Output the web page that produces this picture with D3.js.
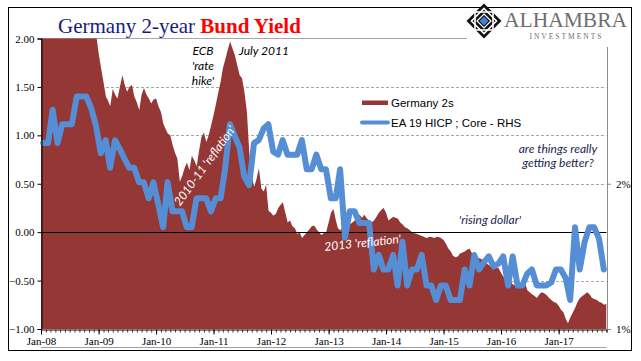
<!DOCTYPE html>
<html><head><meta charset="utf-8">
<script src="https://cdn.jsdelivr.net/npm/d3@7/dist/d3.min.js"></script>
<style>
html,body{margin:0;padding:0;background:#fff;}
svg{display:block;}
</style></head>
<body>
<svg id="chart" width="641" height="361"></svg>
<script>
// ---------- DATA ----------
// Germany 2-year Bund yield, semi-monthly (1st & 16th), from Jan 2008 to Nov 2017
const yieldStartYear = 2008;
const yieldValues = [
  3.9,3.6,3.4,3.2,3.3,3.4,3.6,3.9,4.1,4.4,4.6,4.7,4.6,4.4,4.3,4.1,4.0,3.7,3.5,3.0,2.9,2.6,2.3,2.05,
  1.85,1.70,1.55,1.40,1.36,1.30,1.48,1.42,1.38,1.50,1.62,1.52,1.45,1.50,1.52,1.40,1.34,1.26,1.42,1.49,1.42,1.38,1.33,1.37,
  1.38,1.30,1.24,1.12,1.07,1.02,1.00,0.90,0.82,0.76,0.52,0.58,0.66,0.72,0.64,0.79,0.74,0.68,0.84,0.98,1.03,0.93,1.00,1.10,
  1.21,1.32,1.45,1.56,1.69,1.78,1.88,1.97,1.90,1.83,1.72,1.62,1.59,1.45,1.24,0.82,0.58,0.47,0.55,0.66,0.45,0.42,0.49,0.22,
  0.20,0.17,0.19,0.25,0.28,0.31,0.20,0.10,0.12,0.06,0.04,-0.02,0.00,-0.06,-0.03,0.00,0.03,0.06,0.07,0.03,0.00,-0.03,-0.01,0.00,
  0.10,0.20,0.24,0.12,0.04,0.02,0.05,0.07,0.05,0.08,0.10,0.12,0.14,0.18,0.15,0.18,0.14,0.12,0.10,0.12,0.16,0.20,0.23,0.25,
  0.20,0.12,0.14,0.16,0.15,0.14,0.10,0.08,0.05,0.04,0.02,0.00,-0.01,-0.02,-0.03,-0.04,-0.05,-0.06,-0.05,-0.05,-0.06,-0.05,-0.05,-0.06,
  -0.08,-0.12,-0.17,-0.20,-0.24,-0.26,-0.25,-0.22,-0.21,-0.20,-0.18,-0.17,-0.22,-0.24,-0.26,-0.27,-0.28,-0.30,-0.32,-0.34,-0.36,-0.38,-0.37,-0.37,
  -0.42,-0.46,-0.49,-0.52,-0.50,-0.54,-0.55,-0.58,-0.56,-0.54,-0.52,-0.60,-0.62,-0.64,-0.66,-0.68,-0.64,-0.62,-0.63,-0.65,-0.68,-0.70,-0.72,-0.73,
  -0.76,-0.80,-0.83,-0.90,-0.94,-0.88,-0.83,-0.78,-0.72,-0.68,-0.66,-0.64,-0.62,-0.64,-0.68,-0.69,-0.70,-0.72,-0.73,-0.75,-0.74
];
// EA 19 HICP Core (RHS, %), monthly from Jan 2008
const hicpValues = [
  2.28,2.28,2.51,2.28,2.41,2.41,2.41,2.60,2.60,2.60,2.52,2.40,
  2.21,2.30,2.11,2.30,2.24,2.17,2.11,2.11,2.01,2.01,1.90,2.01,
  1.86,1.70,2.01,1.81,1.81,1.81,1.70,1.70,1.90,1.90,1.90,1.81,
  1.90,1.90,2.10,2.41,2.33,2.25,2.05,1.99,2.28,2.30,2.38,2.41,
  2.22,2.20,2.30,2.20,2.20,2.20,2.30,2.10,2.10,2.20,2.10,2.10,
  1.90,1.90,2.10,1.63,1.81,1.81,1.73,1.73,1.73,1.41,1.51,1.41,
  1.41,1.51,1.30,1.60,1.30,1.41,1.41,1.51,1.30,1.30,1.20,1.30,
  1.30,1.20,1.20,1.20,1.41,1.30,1.51,1.41,1.46,1.50,1.43,1.45,
  1.50,1.30,1.50,1.30,1.30,1.38,1.41,1.30,1.30,1.30,1.32,1.41,
  1.41,1.35,1.20,1.70,1.41,1.60,1.70,1.70,1.62,1.41
];
const leftTicks = [-1.00, -0.50, 0.00, 0.50, 1.00, 1.50, 2.00];
const rightTicks = [1, 2];
const xTickYears = [2008,2009,2010,2011,2012,2013,2014,2015,2016,2017];
const seriesNames = ["Germany 2s", "EA 19 HICP ; Core - RHS"];

// ---------- BUILD ----------
const yieldData = yieldValues.map((v,i)=>({date:new Date(yieldStartYear, Math.floor(i/2), i%2 ? 16 : 1), v}));
const hicpData = hicpValues.map((v,i)=>({date:new Date(yieldStartYear, i, 15), v}));

const svg = d3.select("#chart");
const L = 41, R = 606.5, T = 38.5, B = 329;

const x = d3.scaleTime().domain([new Date(2008,0,1), new Date(2017,10,1)]).range([L, R]);
const y = d3.scaleLinear().domain([-1, 2]).range([B, T]);
const yR = d3.scaleLinear().domain([1, 3]).range([B, T]);

const serif = "'Liberation Serif','Times New Roman',serif";
const sans = "'Liberation Sans',Arial,sans-serif";
const ital = "Lato,'Open Sans',sans-serif";

// outer border
svg.append("rect").attr("x",8.5).attr("y",7.5).attr("width",623).attr("height",343)
  .attr("fill","#fff").attr("stroke","#000").attr("stroke-width",1);

// gridlines
svg.append("g").selectAll("line").data(leftTicks.filter(t=>t!==0 && t!==-1 && t!==2)).join("line")
  .attr("x1",L).attr("x2",R).attr("y1",d=>Math.round(y(d))+0.5).attr("y2",d=>Math.round(y(d))+0.5)
  .attr("stroke","#a6a6a6").attr("stroke-dasharray","3,2").attr("stroke-width",1);
svg.append("line").attr("x1",L).attr("x2",R).attr("y1",T).attr("y2",T).attr("stroke","#a6a6a6");

// clip
svg.append("clipPath").attr("id","plotclip").append("rect")
  .attr("x",L).attr("y",T).attr("width",R-L).attr("height",B-T);

// area
const area = d3.area().x(d=>x(d.date)).y0(y(-1)).y1(d=>y(d.v));
svg.append("path").datum(yieldData).attr("clip-path","url(#plotclip)")
  .attr("d",area).attr("fill","#953735");

// zero line
svg.append("line").attr("x1",L).attr("x2",R).attr("y1",Math.round(y(0))+0.5).attr("y2",Math.round(y(0))+0.5)
  .attr("stroke","#000").attr("stroke-width",1.2);

// HICP line
const line = d3.line().x(d=>x(d.date)).y(d=>yR(d.v));
svg.append("path").datum(hicpData).attr("d",line).attr("fill","none")
  .attr("stroke","#558ED5").attr("stroke-width",6).attr("stroke-linejoin","round").attr("stroke-linecap","round");

// left axis
const yAxis = d3.axisLeft(y).tickValues(leftTicks).tickFormat(d3.format(".2f")).tickSize(4).tickPadding(3);
const gy = svg.append("g").attr("transform",`translate(${L+0.5},0)`).call(yAxis);
gy.select(".domain").attr("stroke","#000");
gy.selectAll(".tick line").attr("stroke","#000");
gy.selectAll("text").attr("font-family",serif).attr("font-size","11px").attr("fill","#000");

// right axis
const yAxisR = d3.axisRight(yR).tickValues(rightTicks).tickFormat(d=>d+"%").tickSize(4).tickPadding(5);
const gr = svg.append("g").attr("transform",`translate(${R+0.5},0)`).call(yAxisR);
gr.select(".domain").attr("stroke","#8c8c8c");
gr.selectAll(".tick line").attr("stroke","#8c8c8c");
gr.selectAll("text").attr("font-family",serif).attr("font-size","11px").attr("fill","#000");

// x axis
const xMinor = d3.axisBottom(x).ticks(d3.timeMonth.every(1)).tickSize(3).tickFormat("");
const gxm = svg.append("g").attr("transform",`translate(0,${B+0.5})`).call(xMinor);
gxm.select(".domain").attr("stroke","#000");
gxm.selectAll(".tick line").attr("stroke","#333");
const xMajor = d3.axisBottom(x).tickValues(xTickYears.map(yy=>new Date(yy,0,1)))
  .tickFormat(d3.timeFormat("%b-%y")).tickSize(5).tickPadding(3);
const gx = svg.append("g").attr("transform",`translate(0,${B+0.5})`).call(xMajor);
gx.select(".domain").remove();
gx.selectAll(".tick line").attr("stroke","#000");
gx.selectAll("text").attr("font-family",serif).attr("font-size","11px").attr("fill","#000");

// bottom gray line
svg.append("line").attr("x1",L).attr("x2",R).attr("y1",347.5).attr("y2",347.5).attr("stroke","#a0a0a0");

// legend
svg.append("rect").attr("x",362).attr("y",100.5).attr("width",26).attr("height",4.5).attr("fill","#953735");
svg.append("text").attr("x",391).attr("y",106.5).text(seriesNames[0])
  .attr("font-family",sans).attr("font-size","11.5px").attr("fill","#000");
svg.append("line").attr("x1",362).attr("x2",388).attr("y1",122.5).attr("y2",122.5)
  .attr("stroke","#558ED5").attr("stroke-width",4).attr("stroke-linecap","round");
svg.append("text").attr("x",391).attr("y",126.5).text(seriesNames[1])
  .attr("font-family",sans).attr("font-size","11.5px").attr("fill","#000");

// annotations
function note(txt, xx, yy, opts={}){
  const t = svg.append("text").attr("x",xx).attr("y",yy).text(txt)
    .attr("font-family",ital).attr("font-style","italic").attr("font-size",(opts.size||12)+"px")
    .attr("fill",opts.fill||"#000").attr("text-anchor",opts.anchor||"middle");
  if(opts.rot!==undefined) t.attr("transform",`rotate(${opts.rot},${xx},${yy})`);
  return t;
}
note("ECB", 203, 55);
note("'rate", 203, 70);
note("hike'", 203, 85);
note("July 2011", 264, 55);
note("are things really", 558, 153, {fill:"#1a2550"});
note("getting better?", 558, 167, {fill:"#1a2550"});
note("'rising dollar'", 490, 224, {fill:"#1a2550"});
note("2010-11 'reflation'", 208, 168, {fill:"#fff", rot:-54, size:12});
note("2013 'reflation'", 363, 247, {fill:"#fff", rot:-6, size:12});

// title
const title = svg.append("text").attr("x",58).attr("y",33).attr("font-family",serif).attr("font-size","21px");
title.append("tspan").text("Germany 2-year ").attr("fill","#1a1a80");
title.append("tspan").text("Bund Yield").attr("fill","#ff0000").attr("font-weight","bold");

// logo
const logo = svg.append("g");
logo.append("rect").attr("x",467).attr("y",8).attr("width",164).attr("height",39).attr("fill","#fff");
const cx = 484, cy = 21, h = 17.5;
const dia = (r)=>`M${cx},${cy-r}L${cx+r},${cy}L${cx},${cy+r}L${cx-r},${cy}Z`;
logo.append("path").attr("d",dia(h)).attr("fill","#111");
logo.append("path").attr("d",dia(12.5)).attr("fill","none").attr("stroke","#fff").attr("stroke-width",1.6);
logo.append("rect").attr("x",cx-9).attr("y",cy-9).attr("width",18).attr("height",18).attr("fill","none").attr("stroke","#fff").attr("stroke-width",1.6);
logo.append("path").attr("d",dia(7)).attr("fill","#111").attr("stroke","#fff").attr("stroke-width",1.2);
logo.append("path").attr("d",dia(4.5)).attr("fill","#3d7fd9");
logo.append("text").attr("x",504).attr("y",26.5).text("ALHAMBRA")
  .attr("font-family",serif).attr("font-size","21.5px").attr("fill","#6e6e6e");
logo.append("text").attr("x",566.5).attr("y",38.5).text("INVESTMENTS").attr("text-anchor","middle")
  .attr("font-family",serif).attr("font-size","7.5px").attr("letter-spacing","2px").attr("fill","#6e6e6e");
</script>
</body></html>
